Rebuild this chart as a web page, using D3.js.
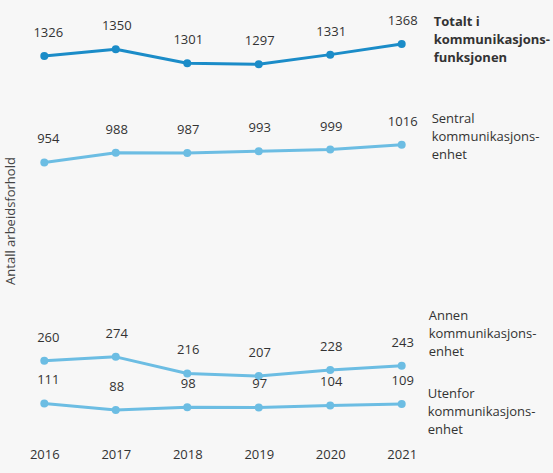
<!DOCTYPE html>
<html><head><meta charset="utf-8">
<script src="https://cdn.jsdelivr.net/npm/d3@7/dist/d3.min.js"></script>
<style>
html,body{margin:0;padding:0;background:#f7f7f7;}
svg{display:block;font-family:"Open Sans",sans-serif;}
</style></head>
<body>
<svg id="chart" width="553" height="473"></svg>
<script>
const years = ["2016","2017","2018","2019","2020","2021"];
const seriesNames = [
  ["Totalt i","kommunikasjons-","funksjonen"],
  ["Sentral","kommunikasjons-","enhet"],
  ["Annen","kommunikasjons-","enhet"],
  ["Utenfor","kommunikasjons-","enhet"]
];
const totalt  = [1326,1350,1301,1297,1331,1368];
const sentral = [954,988,987,993,999,1016];
const annen   = [260,274,216,207,228,243];
const utenfor = [111,88,98,97,104,109];
const yTitle = "Antall arbeidsforhold";

const seriesValues = [totalt, sentral, annen, utenfor];
const colors = ["#1b8cc8","#6cbde3","#6cbde3","#6cbde3"];
const bold = [true,false,false,false];
// label layout (pixel nudges relative to last point)
const labelDx = [32, 30, 27, 26];
const labelDy = [-18, -22, -46, -6];

const svg = d3.select("#chart");
const x = d3.scalePoint().domain(years).range([44.3, 401.7]);
const y = d3.scaleLinear().domain([0, 1400]).range([435.2, 34.9]);

const line = d3.line().x((d,i)=>x(years[i])).y(d=>y(d));

seriesValues.forEach((vals, s) => {
  const g = svg.append("g");
  g.append("path").datum(vals).attr("d", line)
    .attr("fill","none").attr("stroke",colors[s]).attr("stroke-width",3)
    .attr("stroke-linejoin","round");
  g.selectAll("circle").data(vals).join("circle")
    .attr("cx",(d,i)=>x(years[i])).attr("cy",d=>y(d)).attr("r",4)
    .attr("fill",colors[s]);
  g.selectAll("text.v").data(vals).join("text").attr("class","v")
    .attr("x",(d,i)=>x(years[i])+ (i===0?4:1)).attr("y",d=>y(d)-19)
    .attr("text-anchor","middle").attr("font-size",13).attr("fill","#333")
    .text(d=>d);
  const last = vals[vals.length-1];
  const t = g.append("text")
    .attr("x", x(years[years.length-1]) + labelDx[s])
    .attr("y", y(last) + labelDy[s])
    .attr("font-size",13).attr("fill","#333")
    .attr("font-weight", bold[s] ? "bold" : "normal");
  seriesNames[s].forEach((ln, k) => {
    t.append("tspan").attr("x", x(years[years.length-1]) + labelDx[s])
      .attr("dy", k===0?0:18).text(ln);
  });
});

// x axis labels
const xAxis = d3.axisBottom(x).tickSize(0).tickPadding(0);
const ax = svg.append("g").attr("transform","translate(0,450)").call(xAxis);
ax.select(".domain").remove();
ax.selectAll("text").attr("font-size",13).attr("fill","#333")
  .attr("font-family","Open Sans, sans-serif");

svg.append("text")
  .attr("transform","translate(15,221) rotate(-90)")
  .attr("text-anchor","middle").attr("font-size",13).attr("fill","#444")
  .text(yTitle);
</script>
</body></html>
